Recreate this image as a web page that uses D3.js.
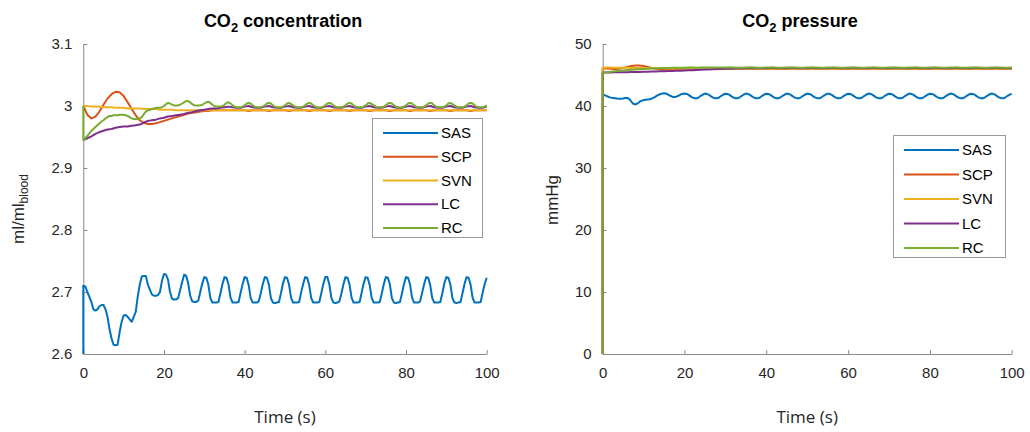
<!DOCTYPE html>
<html>
<head>
<meta charset="utf-8">
<script src="https://cdn.jsdelivr.net/npm/d3@7"></script>
<style>
  body { margin: 0; background: #fff; }
  svg { display: block; }
</style>
</head>
<body>
<svg id="chart" width="1030" height="432"></svg>
<script>
// ---- data -------------------------------------------------------------
const seriesNames = ["SAS", "SCP", "SVN", "LC", "RC"];

const timeTicks = [0, 20, 40, 60, 80, 100];
const concTicks = [2.6, 2.7, 2.8, 2.9, 3, 3.1];
const presTicks = [0, 10, 20, 30, 40, 50];

// sampling intervals (s) of the recorded traces
const fineStep = 0.5;
const coarseStep = 1;

// value of each trace at t = 0, before its first recorded sample
const concInitial = [2.6, 3.0, 3.0, 2.945, 3.0];
const presInitial = [0, 0, 0, 0, 0];

// CO2 concentration (ml/ml blood)
const concSAS = [ // every 0.5 s
  2.710, 2.709, 2.700, 2.692, 2.684, 2.672, 2.670, 2.672, 2.677, 2.679,
  2.679, 2.672, 2.660, 2.640, 2.625, 2.615, 2.614, 2.615, 2.635, 2.652,
  2.662, 2.663, 2.660, 2.656, 2.652, 2.660, 2.668, 2.693, 2.712, 2.725,
  2.726, 2.726, 2.712, 2.704, 2.696, 2.694, 2.694, 2.695, 2.700, 2.718,
  2.729, 2.728, 2.720, 2.700, 2.689, 2.688, 2.688, 2.690, 2.703, 2.716,
  2.728, 2.726, 2.714, 2.694, 2.685, 2.684, 2.684, 2.686, 2.700, 2.714,
  2.724, 2.723, 2.712, 2.690, 2.683, 2.683, 2.683, 2.684, 2.698, 2.713,
  2.724, 2.723, 2.712, 2.691, 2.683, 2.683, 2.683, 2.684, 2.699, 2.713,
  2.724, 2.723, 2.711, 2.690, 2.683, 2.683, 2.683, 2.685, 2.698, 2.713,
  2.724, 2.723, 2.712, 2.690, 2.683, 2.682, 2.683, 2.684, 2.698, 2.714,
  2.724, 2.723, 2.712, 2.691, 2.683, 2.683, 2.683, 2.684, 2.699, 2.713,
  2.724, 2.723, 2.711, 2.690, 2.683, 2.683, 2.683, 2.684, 2.698, 2.713,
  2.724, 2.724, 2.712, 2.690, 2.683, 2.682, 2.683, 2.685, 2.698, 2.713,
  2.724, 2.723, 2.712, 2.691, 2.683, 2.683, 2.683, 2.684, 2.699, 2.714,
  2.724, 2.723, 2.711, 2.690, 2.683, 2.683, 2.683, 2.684, 2.698, 2.713,
  2.724, 2.723, 2.712, 2.690, 2.683, 2.682, 2.683, 2.684, 2.698, 2.713,
  2.724, 2.723, 2.712, 2.691, 2.683, 2.683, 2.683, 2.685, 2.699, 2.713,
  2.724, 2.723, 2.711, 2.690, 2.683, 2.683, 2.683, 2.684, 2.698, 2.714,
  2.724, 2.723, 2.712, 2.690, 2.683, 2.682, 2.683, 2.684, 2.698, 2.713,
  2.724, 2.723, 2.712, 2.691, 2.683, 2.683, 2.683, 2.684, 2.699, 2.713,
  2.723
];
const concSCP = [ // every 1 s
  3.000, 2.986, 2.980, 2.983, 2.991, 3.002, 3.012, 3.019, 3.023, 3.022,
  3.016, 3.006, 2.995, 2.985, 2.977, 2.973, 2.971, 2.971, 2.972, 2.974,
  2.976, 2.978, 2.980, 2.982, 2.984, 2.986, 2.988, 2.989, 2.990, 2.991,
  2.992, 2.992, 2.993, 2.993, 2.993, 2.993, 2.993, 2.993, 2.993, 2.993,
  2.993, 2.992, 2.993, 2.993, 2.993, 2.993, 2.992, 2.993, 2.993, 2.993,
  2.993, 2.992, 2.993, 2.993, 2.993, 2.993, 2.992, 2.993, 2.993, 2.993,
  2.993, 2.992, 2.993, 2.993, 2.993, 2.993, 2.992, 2.993, 2.993, 2.993,
  2.993, 2.992, 2.993, 2.993, 2.993, 2.993, 2.992, 2.993, 2.993, 2.993,
  2.993, 2.992, 2.993, 2.993, 2.993, 2.993, 2.992, 2.993, 2.993, 2.993,
  2.993, 2.992, 2.993, 2.993, 2.993, 2.993, 2.992, 2.993, 2.993, 2.993,
  2.993
];
const concSVN = [ // every 1 s
  3.000, 3.000, 2.999, 2.999, 2.999, 2.998, 2.998, 2.998, 2.997, 2.997,
  2.997, 2.996, 2.996, 2.996, 2.996, 2.995, 2.995, 2.995, 2.995, 2.994,
  2.994, 2.994, 2.994, 2.993, 2.993, 2.993, 2.993, 2.993, 2.993, 2.993,
  2.993, 2.993, 2.993, 2.993, 2.993, 2.993, 2.993, 2.993, 2.993, 2.993,
  2.993, 2.993, 2.993, 2.993, 2.993, 2.993, 2.993, 2.993, 2.993, 2.993,
  2.993, 2.993, 2.993, 2.993, 2.993, 2.993, 2.993, 2.993, 2.993, 2.993,
  2.993, 2.993, 2.993, 2.993, 2.993, 2.993, 2.993, 2.993, 2.993, 2.993,
  2.993, 2.993, 2.993, 2.993, 2.993, 2.993, 2.993, 2.993, 2.993, 2.993,
  2.993, 2.993, 2.993, 2.993, 2.993, 2.993, 2.993, 2.993, 2.993, 2.993,
  2.993, 2.993, 2.993, 2.993, 2.993, 2.993, 2.993, 2.993, 2.993, 2.993,
  2.993
];
const concLC = [ // every 1 s
  2.945, 2.948, 2.951, 2.955, 2.958, 2.960, 2.962, 2.963, 2.965, 2.966,
  2.967, 2.967, 2.968, 2.969, 2.970, 2.973, 2.976, 2.977, 2.978, 2.980,
  2.981, 2.983, 2.984, 2.985, 2.986, 2.987, 2.989, 2.990, 2.992, 2.993,
  2.994, 2.995, 2.996, 2.996, 2.997, 2.998, 2.999, 2.998, 2.997, 2.997,
  2.999, 3.000, 2.998, 2.997, 2.997, 2.999, 3.000, 2.998, 2.997, 2.997,
  2.999, 3.000, 2.998, 2.997, 2.997, 2.999, 3.000, 2.998, 2.997, 2.997,
  2.999, 3.000, 2.998, 2.997, 2.997, 2.999, 3.000, 2.998, 2.997, 2.997,
  2.999, 3.000, 2.998, 2.997, 2.997, 2.999, 3.000, 2.998, 2.997, 2.997,
  2.999, 3.000, 2.998, 2.997, 2.997, 2.999, 3.000, 2.998, 2.997, 2.997,
  2.999, 3.000, 2.998, 2.997, 2.997, 2.999, 3.000, 2.998, 2.997, 2.997,
  2.999
];
const concRC = [ // every 0.5 s
  2.945, 2.948, 2.952, 2.956, 2.960, 2.963, 2.966, 2.969, 2.972, 2.975,
  2.977, 2.980, 2.982, 2.984, 2.984, 2.985, 2.985, 2.985, 2.986, 2.986,
  2.986, 2.985, 2.984, 2.982, 2.980, 2.979, 2.979, 2.979, 2.980, 2.982,
  2.987, 2.991, 2.993, 2.994, 2.995, 2.996, 2.997, 2.997, 2.997, 2.998,
  3.000, 3.003, 3.005, 3.004, 3.002, 3.001, 3.001, 3.001, 3.002, 3.004,
  3.006, 3.008, 3.008, 3.006, 3.003, 3.001, 3.001, 3.001, 3.001, 3.002,
  3.004, 3.006, 3.007, 3.005, 3.002, 3.000, 2.999, 2.999, 2.999, 3.000,
  3.002, 3.005, 3.006, 3.004, 3.001, 2.999, 2.998, 2.998, 2.998, 2.999,
  3.001, 3.004, 3.005, 3.004, 3.001, 2.999, 2.998, 2.998, 2.998, 2.999,
  3.001, 3.004, 3.005, 3.004, 3.001, 2.999, 2.998, 2.998, 2.998, 2.999,
  3.001, 3.004, 3.005, 3.003, 3.001, 2.999, 2.998, 2.998, 2.998, 2.999,
  3.001, 3.004, 3.005, 3.004, 3.001, 2.999, 2.998, 2.997, 2.998, 2.999,
  3.001, 3.004, 3.005, 3.004, 3.001, 2.999, 2.998, 2.998, 2.998, 2.999,
  3.001, 3.004, 3.005, 3.004, 3.001, 2.999, 2.998, 2.998, 2.998, 2.999,
  3.001, 3.004, 3.005, 3.003, 3.001, 2.999, 2.998, 2.998, 2.998, 2.999,
  3.001, 3.004, 3.005, 3.004, 3.001, 2.999, 2.998, 2.997, 2.998, 2.999,
  3.001, 3.004, 3.005, 3.004, 3.001, 2.999, 2.998, 2.998, 2.998, 2.999,
  3.001, 3.004, 3.005, 3.004, 3.001, 2.999, 2.998, 2.998, 2.998, 2.999,
  3.001, 3.004, 3.005, 3.003, 3.001, 2.999, 2.998, 2.998, 2.998, 2.999,
  3.001, 3.004, 3.005, 3.004, 3.001, 2.999, 2.998, 2.998, 2.998, 2.999,
  3.001
];

// CO2 pressure (mmHg)
const presSAS = [ // every 0.5 s
  41.80, 41.75, 41.60, 41.45, 41.35, 41.30, 41.25, 41.20, 41.15, 41.15,
  41.20, 41.30, 41.30, 41.10, 40.70, 40.35, 40.25, 40.40, 40.65, 40.85,
  40.95, 41.00, 41.05, 41.10, 41.20, 41.35, 41.55, 41.75, 41.90, 42.00,
  42.05, 42.00, 41.85, 41.65, 41.50, 41.45, 41.50, 41.65, 41.85, 41.95,
  42.00, 41.95, 41.80, 41.55, 41.35, 41.25, 41.25, 41.40, 41.65, 41.85,
  42.00, 41.95, 41.80, 41.55, 41.35, 41.25, 41.25, 41.40, 41.65, 41.85,
  41.98, 41.95, 41.80, 41.55, 41.35, 41.25, 41.25, 41.40, 41.65, 41.85,
  42.00, 41.95, 41.80, 41.55, 41.35, 41.25, 41.25, 41.40, 41.65, 41.85,
  41.98, 41.95, 41.80, 41.55, 41.35, 41.25, 41.25, 41.40, 41.65, 41.85,
  42.00, 41.95, 41.80, 41.55, 41.35, 41.25, 41.25, 41.40, 41.65, 41.85,
  41.98, 41.95, 41.80, 41.55, 41.35, 41.25, 41.25, 41.40, 41.65, 41.85,
  42.00, 41.95, 41.80, 41.55, 41.35, 41.25, 41.25, 41.40, 41.65, 41.85,
  41.98, 41.95, 41.80, 41.55, 41.35, 41.25, 41.25, 41.40, 41.65, 41.85,
  42.00, 41.95, 41.80, 41.55, 41.35, 41.25, 41.25, 41.40, 41.65, 41.85,
  41.98, 41.95, 41.80, 41.55, 41.35, 41.25, 41.25, 41.40, 41.65, 41.85,
  42.00, 41.95, 41.80, 41.55, 41.35, 41.25, 41.25, 41.40, 41.65, 41.85,
  41.98, 41.95, 41.80, 41.55, 41.35, 41.25, 41.25, 41.40, 41.65, 41.85,
  42.00, 41.95, 41.80, 41.55, 41.35, 41.25, 41.25, 41.40, 41.65, 41.85,
  41.98, 41.95, 41.80, 41.55, 41.35, 41.25, 41.25, 41.40, 41.65, 41.85,
  42.00, 41.95, 41.80, 41.55, 41.35, 41.25, 41.25, 41.40, 41.65, 41.85,
  41.95
];
const presSCP = [ // every 1 s
  46.10, 46.05, 46.00, 45.95, 46.00, 46.15, 46.30, 46.45, 46.55, 46.55,
  46.45, 46.30, 46.15, 46.00, 45.90, 45.85, 45.85, 45.85, 45.85, 45.90,
  45.90, 45.90, 45.90, 45.95, 45.95, 45.95, 45.95, 46.00, 46.00, 46.00,
  46.00, 46.00, 45.98, 46.00, 46.02, 46.00, 46.00, 45.98, 46.00, 46.02,
  46.00, 46.00, 45.98, 46.00, 46.02, 46.00, 46.00, 45.98, 46.00, 46.02,
  46.00, 46.00, 45.98, 46.00, 46.02, 46.00, 46.00, 45.98, 46.00, 46.02,
  46.00, 46.00, 45.98, 46.00, 46.02, 46.00, 46.00, 45.98, 46.00, 46.02,
  46.00, 46.00, 45.98, 46.00, 46.02, 46.00, 46.00, 45.98, 46.00, 46.02,
  46.00, 46.00, 45.98, 46.00, 46.02, 46.00, 46.00, 45.98, 46.00, 46.02,
  46.00, 46.00, 45.98, 46.00, 46.02, 46.00, 46.00, 45.98, 46.00, 46.02,
  46.00
];
const presSVN = [ // every 1 s
  46.20, 46.20, 46.20, 46.18, 46.17, 46.16, 46.15, 46.14, 46.13, 46.12,
  46.11, 46.10, 46.10, 46.09, 46.08, 46.07, 46.06, 46.05, 46.05, 46.04,
  46.04, 46.03, 46.03, 46.02, 46.02, 46.01, 46.01, 46.00, 46.00, 46.00,
  46.00, 46.00, 46.00, 46.00, 46.00, 46.00, 46.00, 46.00, 46.00, 46.00,
  46.00, 46.00, 46.00, 46.00, 46.00, 46.00, 46.00, 46.00, 46.00, 46.00,
  46.00, 46.00, 46.00, 46.00, 46.00, 46.00, 46.00, 46.00, 46.00, 46.00,
  46.00, 46.00, 46.00, 46.00, 46.00, 46.00, 46.00, 46.00, 46.00, 46.00,
  46.00, 46.00, 46.00, 46.00, 46.00, 46.00, 46.00, 46.00, 46.00, 46.00,
  46.00, 46.00, 46.00, 46.00, 46.00, 46.00, 46.00, 46.00, 46.00, 46.00,
  46.00, 46.00, 46.00, 46.00, 46.00, 46.00, 46.00, 46.00, 46.00, 46.00,
  46.00
];
const presLC = [ // every 1 s
  45.40, 45.41, 45.42, 45.43, 45.44, 45.45, 45.46, 45.47, 45.48, 45.50,
  45.52, 45.54, 45.56, 45.58, 45.60, 45.62, 45.64, 45.66, 45.68, 45.70,
  45.72, 45.75, 45.78, 45.81, 45.84, 45.87, 45.90, 45.93, 45.96, 45.98,
  46.00, 46.02, 46.04, 46.05, 46.06, 46.07, 46.08, 46.09, 46.10, 46.10,
  46.10, 46.12, 46.11, 46.08, 46.08, 46.10, 46.12, 46.11, 46.08, 46.08,
  46.10, 46.12, 46.11, 46.08, 46.08, 46.10, 46.12, 46.11, 46.08, 46.08,
  46.10, 46.12, 46.11, 46.08, 46.08, 46.10, 46.12, 46.11, 46.08, 46.08,
  46.10, 46.12, 46.11, 46.08, 46.08, 46.10, 46.12, 46.11, 46.08, 46.08,
  46.10, 46.12, 46.11, 46.08, 46.08, 46.10, 46.12, 46.11, 46.08, 46.08,
  46.10, 46.12, 46.11, 46.08, 46.08, 46.10, 46.12, 46.11, 46.08, 46.08,
  46.10
];
const presRC = [ // every 1 s
  45.40, 45.45, 45.52, 45.60, 45.67, 45.74, 45.80, 45.85, 45.90, 45.94,
  45.98, 46.01, 46.04, 46.07, 46.09, 46.11, 46.13, 46.15, 46.16, 46.17,
  46.18, 46.20, 46.19, 46.18, 46.19, 46.21, 46.22, 46.20, 46.19, 46.20,
  46.20, 46.23, 46.21, 46.18, 46.18, 46.20, 46.23, 46.21, 46.18, 46.18,
  46.20, 46.23, 46.21, 46.18, 46.18, 46.20, 46.23, 46.21, 46.18, 46.18,
  46.20, 46.23, 46.21, 46.18, 46.18, 46.20, 46.23, 46.21, 46.18, 46.18,
  46.20, 46.23, 46.21, 46.18, 46.18, 46.20, 46.23, 46.21, 46.18, 46.18,
  46.20, 46.23, 46.21, 46.18, 46.18, 46.20, 46.23, 46.21, 46.18, 46.18,
  46.20, 46.23, 46.21, 46.18, 46.18, 46.20, 46.23, 46.21, 46.18, 46.18,
  46.20, 46.23, 46.21, 46.18, 46.18, 46.20, 46.23, 46.21, 46.18, 46.18,
  46.20
];

// ---- styling ----------------------------------------------------------
const seriesColors = ["#0072BD", "#D95319", "#EDB120", "#7E2F8E", "#77AC30"];
const axisColor = "#8a8a8a";
const textColor = "#262626";
const fontSans = "Liberation Sans, Arial, sans-serif";

// ---- panels -----------------------------------------------------------
const panels = [
  {
    title: ["CO", "2", " concentration"], titleX: 283,
    xRange: [83.3, 486.7], yRange: [354, 44], yDomain: [2.6, 3.1],
    yTicks: concTicks, yLabel: ["ml/ml", "blood"], yLabelX: 24, yLabelY: 209,
    initial: concInitial,
    traces: [
      { values: concSAS, step: fineStep },
      { values: concSCP, step: coarseStep },
      { values: concSVN, step: coarseStep },
      { values: concLC, step: coarseStep },
      { values: concRC, step: fineStep }
    ],
    legend: { x: 372, y: 118, w: 110, h: 119 }
  },
  {
    title: ["CO", "2", " pressure"], titleX: 800,
    xRange: [602.7, 1011.7], yRange: [354, 44], yDomain: [0, 50],
    yTicks: presTicks, yLabel: ["mmHg"], yLabelX: 558, yLabelY: 200,
    initial: presInitial,
    traces: [
      { values: presSAS, step: fineStep },
      { values: presSCP, step: coarseStep },
      { values: presSVN, step: coarseStep },
      { values: presLC, step: coarseStep },
      { values: presRC, step: coarseStep }
    ],
    legend: { x: 893, y: 135, w: 112, h: 122 }
  }
];

const svg = d3.select("#chart");

panels.forEach(p => {
  const x = d3.scaleLinear().domain([0, 100]).range(p.xRange);
  const y = d3.scaleLinear().domain(p.yDomain).range(p.yRange);
  const g = svg.append("g");

  // axes (ticks pointing into the plot area)
  const xAxis = g.append("g")
    .attr("transform", `translate(0,${p.yRange[0]})`)
    .call(d3.axisBottom(x).tickValues(timeTicks).tickSizeInner(-4).tickSizeOuter(0).tickPadding(13));
  const yAxis = g.append("g")
    .attr("transform", `translate(${p.xRange[0]},0)`)
    .call(d3.axisLeft(y).tickValues(p.yTicks).tickFormat(d => String(d))
      .tickSizeInner(-4).tickSizeOuter(0).tickPadding(11));
  [xAxis, yAxis].forEach(a => {
    a.select(".domain").attr("stroke", axisColor);
    a.selectAll(".tick line").attr("stroke", axisColor);
    a.selectAll(".tick text").attr("fill", textColor)
      .style("font-family", fontSans).style("font-size", "15px");
  });

  // traces, drawn in legend order so RC ends up on top
  const line = d3.line().x(d => x(d[0])).y(d => y(d[1]));
  p.traces.forEach((tr, i) => {
    const pts = [[0, p.initial[i]]].concat(tr.values.map((v, k) => [k * tr.step, v]));
    g.append("path")
      .datum(pts)
      .attr("fill", "none")
      .attr("stroke", seriesColors[i])
      .attr("stroke-width", 2)
      .attr("stroke-linejoin", "round")
      .attr("d", line);
  });

  // title with subscript
  const title = g.append("text")
    .attr("x", p.titleX).attr("y", 27)
    .attr("text-anchor", "middle")
    .attr("fill", "#000")
    .style("font-family", fontSans).style("font-size", "18px").style("font-weight", "bold");
  title.append("tspan").text(p.title[0]);
  title.append("tspan").attr("dy", 5).style("font-size", "13px").text(p.title[1]);
  title.append("tspan").attr("dy", -5).text(p.title[2]);

  // y label
  const yl = g.append("text")
    .attr("transform", `translate(${p.yLabelX},${p.yLabelY}) rotate(-90)`)
    .attr("text-anchor", "middle")
    .attr("fill", textColor)
    .style("font-family", fontSans).style("font-size", "17px");
  yl.append("tspan").text(p.yLabel[0]);
  if (p.yLabel[1]) {
    yl.append("tspan").attr("dy", 4).style("font-size", "12px").text(p.yLabel[1]);
  }

  // x label
  g.append("text")
    .attr("x", (p.xRange[0] + p.xRange[1]) / 2)
    .attr("y", 423)
    .attr("text-anchor", "middle")
    .attr("fill", textColor)
    .style("font-family", "Open Sans, sans-serif").style("font-size", "17px")
    .text("Time (s)");

  // legend
  const L = p.legend;
  const lg = g.append("g").attr("transform", `translate(${L.x},${L.y})`);
  lg.append("rect").attr("x", 0.5).attr("y", 0.5).attr("width", L.w).attr("height", L.h)
    .attr("fill", "#fff").attr("stroke", "#9a9a9a").attr("stroke-width", 1);
  const rowH = (L.h - 24) / (seriesNames.length - 1);
  seriesNames.forEach((name, i) => {
    const cy = 15 + i * rowH;
    lg.append("line").attr("x1", 11).attr("x2", 66).attr("y1", cy).attr("y2", cy)
      .attr("stroke", seriesColors[i]).attr("stroke-width", 2);
    lg.append("text").attr("x", 69).attr("y", cy + 5)
      .attr("fill", "#000")
      .style("font-family", fontSans).style("font-size", "15px")
      .text(name);
  });
});
</script>
</body>
</html>
